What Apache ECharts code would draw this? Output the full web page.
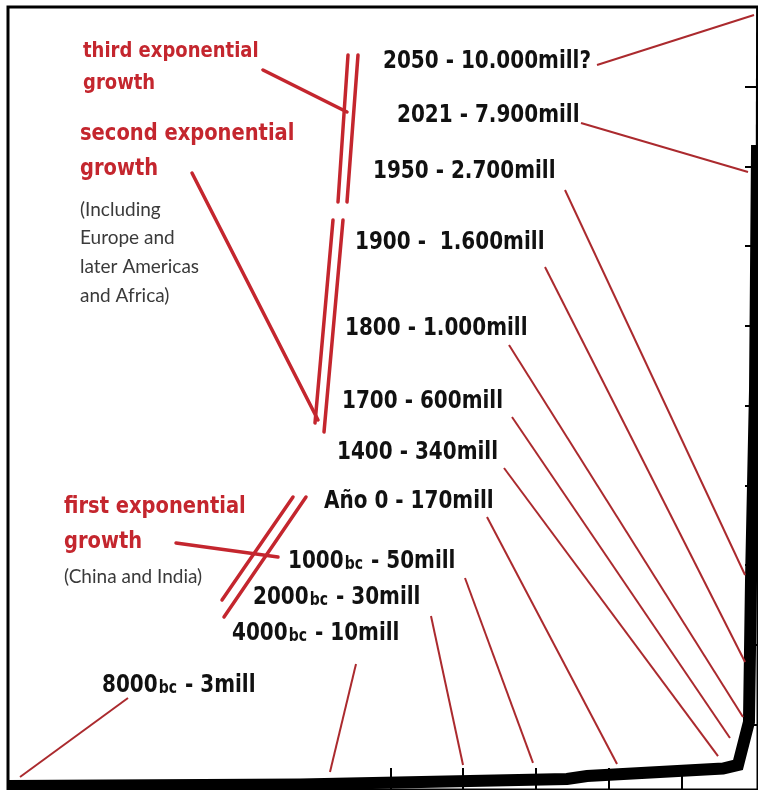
<!DOCTYPE html>
<html><head><meta charset="utf-8">
<script src="https://cdn.jsdelivr.net/npm/echarts@6/dist/echarts.min.js"></script>
<style>html,body{margin:0;padding:0;background:#fff}#c{width:758px;height:790px}</style>
</head><body><div id="c"></div>
<script>
// ---- data ----
const curveYears = [-8250, -4240, -573, -298, 1569, 1775, 1926, 1954, 2009, 2037];
const curvePop   = [230, 249, 319, 356, 450, 494, 1033, 2814, 5197, 8269];
const projYears  = [2037, 2042];
const projPop    = [8269, 10000];
const xTickYears = [-3000, -2000, -1000, 0, 1000];
const yTickPop   = [1000, 2000, 3000, 4000, 5000, 6000, 7000, 8000, 9000];

const eraYear = ['2050', '2021', '1950', '1900', '1800', '1700', '1400', 'Año 0', '1000', '2000', '4000', '8000'];
const eraBC   = [false, false, false, false, false, false, false, false, true, true, true, true];
const eraPop  = ['10.000mill?', '7.900mill', '2.700mill', ' 1.600mill', '1.000mill', '600mill', '340mill', '170mill', '50mill', '30mill', '10mill', '3mill'];
const leaderEndYear = [1995, 1913, 1872, 1872, 1844, 1665, 1501, 114, -1040, -2001, -3828, -8085];
const leaderEndPop  = [9899, 7930, 2876, 1785, 1095, 832, 606, 506, 519, 494, 406, 343];

// ---- layout (pixels) ----
const labelPos = [[383,62],[397,116],[373,172],[355,243],[345,329],[342,402],[337,453],[324,502],[288,562],[253,598],[232,634],[102,686]];
const leaderStart = [[597,65],[581,123],[565,190],[545,267],[509,345],[512,417],[504,468],[487,517],[465,578],[431,616],[356,664],[128,698]];

const RED = '#c4262e';
const LEAD = '#ab2a2e';

const chart = echarts.init(document.getElementById('c'), null, {renderer: 'canvas'});
chart.setOption({
  animation: false,
  backgroundColor: '#fff',
  grid: {left: 8, top: 7, right: 0, bottom: 0, show: true, borderColor: '#000', borderWidth: 3, backgroundColor: 'transparent'},
  xAxis: {
    type: 'value', min: -8250, max: 2050, position: 'bottom',
    axisLine: {show: false, onZero: false}, splitLine: {show: false},
    axisLabel: {show: false, customValues: xTickYears},
    axisTick: {show: true, inside: true, length: 22, customValues: xTickYears, lineStyle: {color: '#000', width: 2}}
  },
  yAxis: {
    type: 'value', min: 180, max: 10000, position: 'right',
    axisLine: {show: false, onZero: false}, splitLine: {show: false},
    axisLabel: {show: false, customValues: yTickPop},
    axisTick: {show: true, inside: true, length: 13, customValues: yTickPop, lineStyle: {color: '#000', width: 2}}
  },
  series: [
    {type: 'line', data: curveYears.map((y, i) => [y, curvePop[i]]), symbol: 'none', clip: false,
     lineStyle: {color: '#000', width: 12, join: 'miter'}},
    {type: 'line', data: projYears.map((y, i) => [y, projPop[i]]), symbol: 'none', clip: false,
     lineStyle: {color: '#000', width: 2.5}}
  ]
});

const els = [];
const redLine = (a, b, w) => els.push({type: 'line', shape: {x1: a[0], y1: a[1], x2: b[0], y2: b[1]}, style: {stroke: RED, lineWidth: w || 3.5, lineCap: 'round'}, z: 50});
// exponential growth markers
redLine([348,55],[338,202]); redLine([358,55],[347,202]); redLine([263,70],[347,112]);
redLine([333,220],[315,423]); redLine([343,220],[324,432]); redLine([192,173],[318,420]);
redLine([293,497],[222,600]); redLine([306,497],[224,617]); redLine([176,543],[278,557]);

const txt = (s, x, y, font, color, sy) => els.push({type: 'text', x: x, y: y, scaleY: sy || 1, z: 60,
  style: {text: s, font: font, fill: color, textVerticalAlign: 'middle', textAlign: 'left'}});
const RF = 'bold 18px "DejaVu Sans"';
const RF2 = 'bold 19.5px "DejaVu Sans"';
txt('third exponential', 83, 52, RF, RED, 1.15);
txt('growth', 83, 84, RF, RED, 1.15);
txt('second exponential', 80, 134, RF2, RED, 1.15);
txt('growth', 80, 169, RF2, RED, 1.15);
const GF = '19px Lato';
txt('(Including', 80, 210, GF, '#3a3a3a');
txt('Europe and', 80, 238, GF, '#3a3a3a');
txt('later Americas', 80, 267, GF, '#3a3a3a');
txt('and Africa)', 80, 296, GF, '#3a3a3a');
txt('first exponential', 64, 507, RF2, RED, 1.15);
txt('growth', 64, 542, RF2, RED, 1.15);
txt('(China and India)', 64, 577, '19px Lato', '#3a3a3a');

// era labels and leader lines
eraYear.forEach((yr, i) => {
  const p = labelPos[i];
  els.push({type: 'text', x: p[0], y: p[1], scaleY: 1.2, z: 60,
    style: {
      text: '{a|' + yr + '}' + (eraBC[i] ? '{b|bc}' : '') + '{a| - ' + eraPop[i] + '}',
      textVerticalAlign: 'middle', textAlign: 'left',
      rich: {
        a: {font: 'bold 20px "DejaVu Sans"', fill: '#111', color: '#111'},
        b: {font: 'bold 14px "DejaVu Sans"', fill: '#111', color: '#111', padding: [4, 1, 0, 1]}
      }
    }});
  const e = chart.convertToPixel({xAxisIndex: 0, yAxisIndex: 0}, [leaderEndYear[i], leaderEndPop[i]]);
  const s = leaderStart[i];
  els.push({type: 'line', shape: {x1: s[0], y1: s[1], x2: e[0], y2: e[1]}, style: {stroke: LEAD, lineWidth: 2}, z: 40});
});

chart.setOption({graphic: {elements: els}});
</script>
</body></html>
